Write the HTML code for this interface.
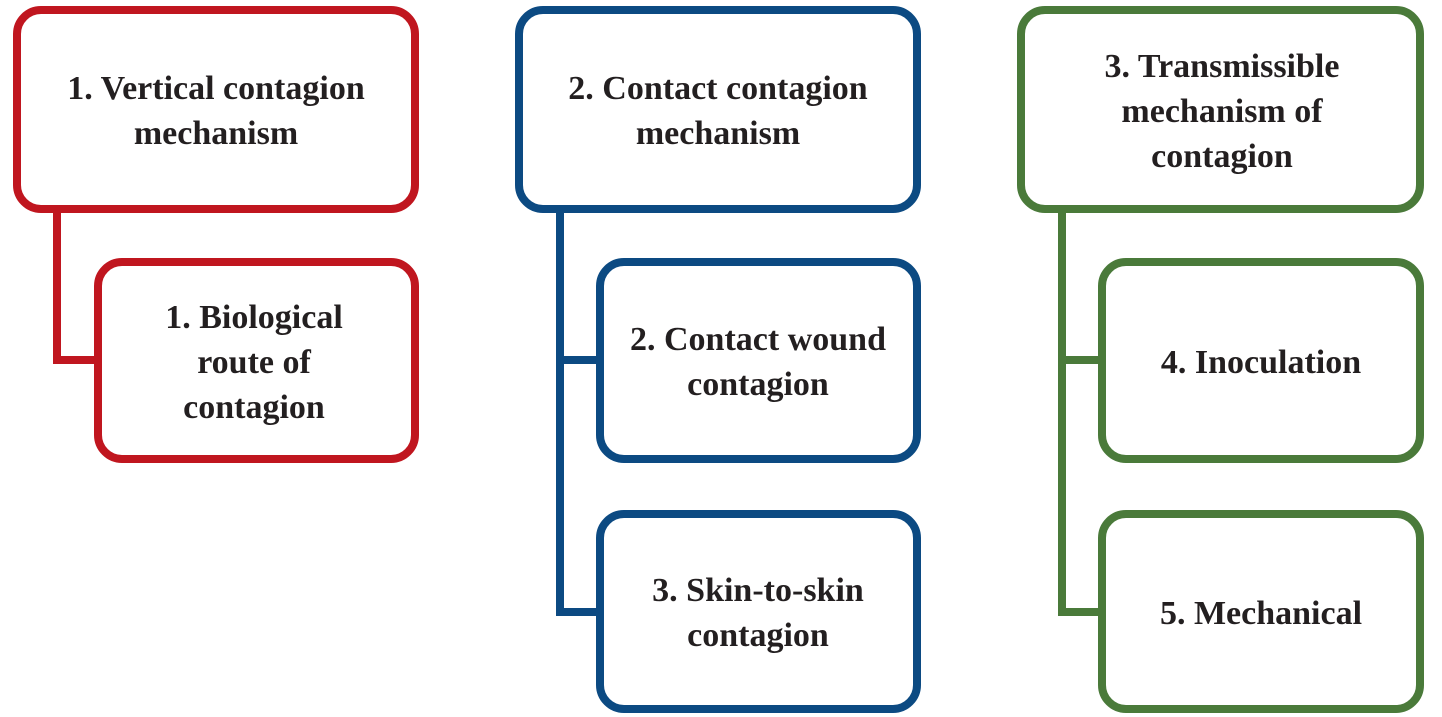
<!DOCTYPE html>
<html><head><meta charset="utf-8"><style>
html,body{margin:0;padding:0;background:#fff;}
svg{display:block;}
text{font-family:"Liberation Serif",serif;font-weight:bold;font-size:34px;fill:#231f20;text-anchor:middle;}
</style></head><body>
<svg width="1442" height="717" viewBox="0 0 1442 717" xmlns="http://www.w3.org/2000/svg">
<g fill="none" stroke-width="8">
 <!-- red -->
 <g stroke="#C0161F">
  <path d="M57 209 V360 H98"/>
  <rect x="17" y="10" width="398" height="199" rx="24"/>
  <rect x="98" y="262" width="317" height="197" rx="24"/>
 </g>
 <!-- blue -->
 <g stroke="#0C4A82">
  <path d="M560 209 V612 H600 M560 360 H600"/>
  <rect x="519" y="10" width="398" height="199" rx="24"/>
  <rect x="600" y="262" width="317" height="197" rx="24"/>
  <rect x="600" y="514" width="317" height="195" rx="24"/>
 </g>
 <!-- green -->
 <g stroke="#4A7A3A">
  <path d="M1062 209 V612 H1102 M1062 360 H1102"/>
  <rect x="1021" y="10" width="399" height="199" rx="24"/>
  <rect x="1102" y="262" width="318" height="197" rx="24"/>
  <rect x="1102" y="514" width="318" height="195" rx="24"/>
 </g>
</g>
<text x="216" y="99">1. Vertical contagion</text>
<text x="216" y="144">mechanism</text>
<text x="254" y="328">1. Biological</text>
<text x="254" y="373">route of</text>
<text x="254" y="418">contagion</text>

<text x="718" y="99">2. Contact contagion</text>
<text x="718" y="144">mechanism</text>
<text x="758" y="350">2. Contact wound</text>
<text x="758" y="395">contagion</text>
<text x="758" y="601">3. Skin-to-skin</text>
<text x="758" y="646">contagion</text>

<text x="1222" y="77">3. Transmissible</text>
<text x="1222" y="122">mechanism of</text>
<text x="1222" y="167">contagion</text>
<text x="1261" y="373">4. Inoculation</text>
<text x="1261" y="624">5. Mechanical</text>
</svg>
</body></html>
